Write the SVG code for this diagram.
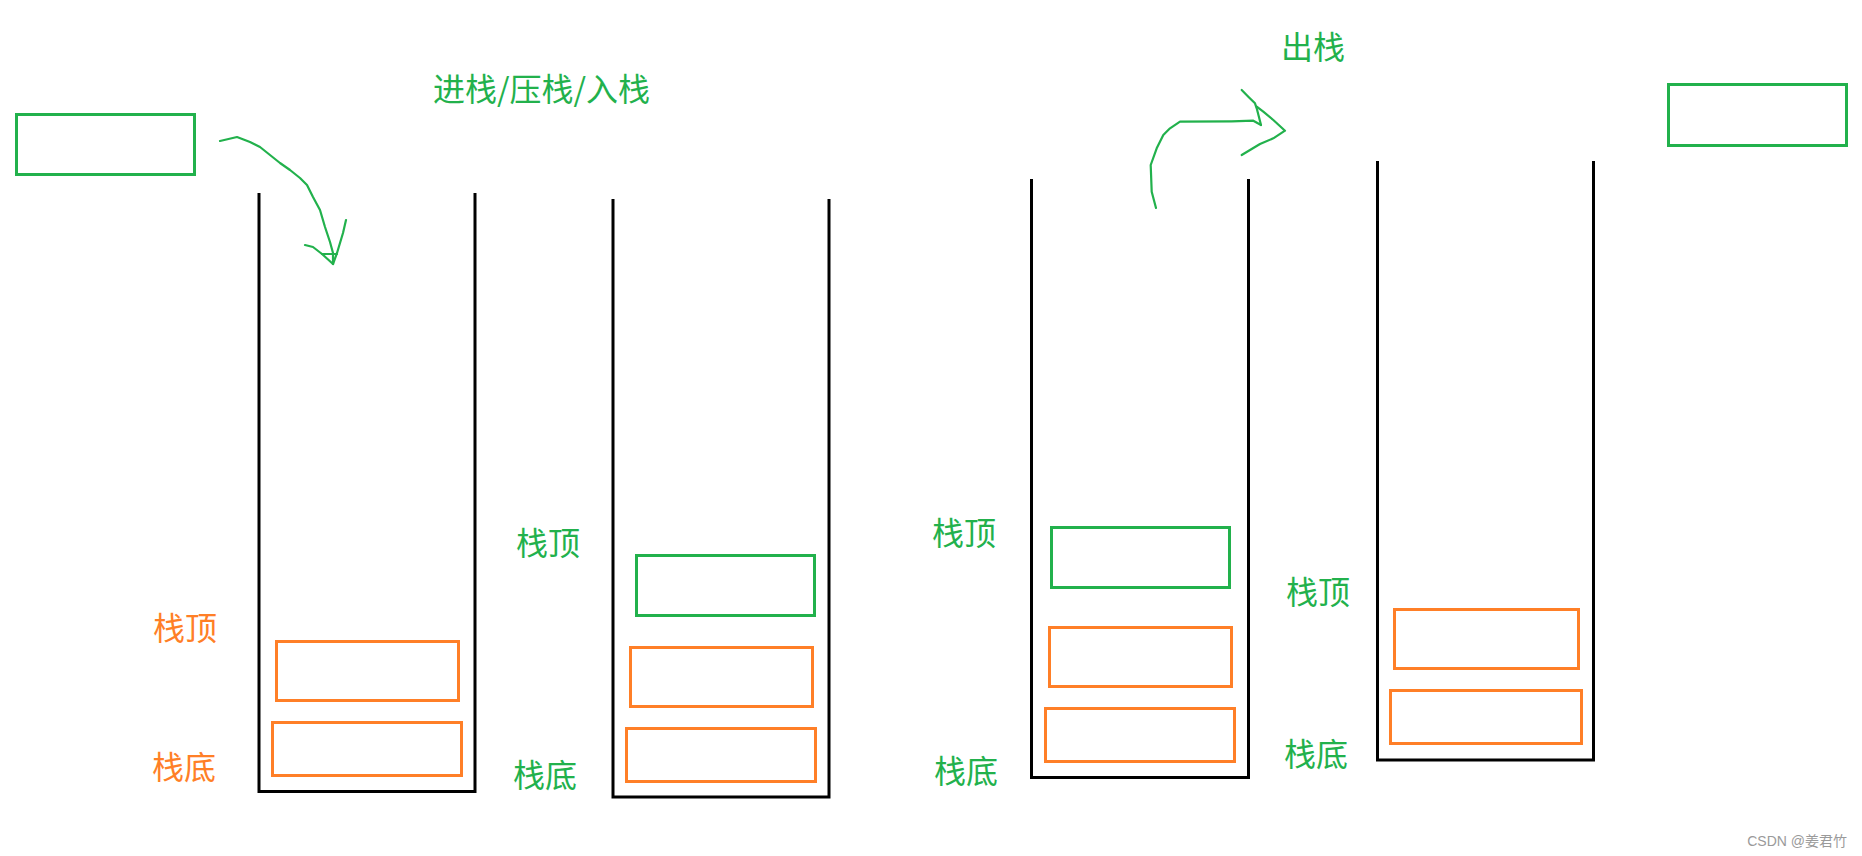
<svg xmlns="http://www.w3.org/2000/svg" width="1862" height="856" viewBox="0 0 1862 856">
<style>
  .stack{fill:none;stroke:#000;stroke-width:3;stroke-linejoin:miter}
  .g{fill:none;stroke:#22B14C;stroke-width:3}
  .o{fill:none;stroke:#FF7F27;stroke-width:3}
  .arrow{fill:none;stroke:#22B14C;stroke-width:2.2;stroke-linejoin:round;stroke-linecap:round}
  .lbl{font-family:"Microsoft YaHei","Noto Sans CJK SC",sans-serif;font-size:32px}
  .lg{fill:#22B14C}
  .lo{fill:#FF7F27}
  .wm{font-family:"Liberation Sans","Noto Sans CJK SC",sans-serif;font-size:14px;fill:#9a9a9a}
</style>
<rect width="1862" height="856" fill="#fff"/>

<g id="push-item"><rect class="g" x="16.5" y="114.5" width="178" height="60"/></g>
<g id="pop-item"><rect class="g" x="1668.5" y="84.5" width="178" height="61"/></g>

<g id="title-push"><text class="lbl lg" x="433" y="101">进栈/压栈/入栈</text></g>
<g id="title-pop"><text class="lbl lg" x="1281" y="59">出栈</text></g>

<g id="stack1">
  <path class="stack" d="M259 193 V791.5 H475 V193"/>
  <rect class="o" x="276.5" y="641.5" width="182" height="59"/>
  <rect class="o" x="272.5" y="722.5" width="189" height="53"/>
  <text class="lbl lo" x="153" y="640">栈顶</text>
  <text class="lbl lo" x="152" y="779">栈底</text>
</g>

<g id="stack2">
  <path class="stack" d="M613 199 V797 H829 V199"/>
  <rect class="g" x="636.5" y="555.5" width="178" height="60"/>
  <rect class="o" x="630.5" y="647.5" width="182" height="59"/>
  <rect class="o" x="626.5" y="728.5" width="189" height="53"/>
  <text class="lbl lg" x="516" y="555">栈顶</text>
  <text class="lbl lg" x="513" y="787">栈底</text>
</g>

<g id="stack3">
  <path class="stack" d="M1031.5 179 V777.5 H1248.5 V179"/>
  <rect class="g" x="1051.5" y="527.5" width="178" height="60"/>
  <rect class="o" x="1049.5" y="627.5" width="182" height="59"/>
  <rect class="o" x="1045.5" y="708.5" width="189" height="53"/>
  <text class="lbl lg" x="932" y="545">栈顶</text>
  <text class="lbl lg" x="934" y="783">栈底</text>
</g>

<g id="stack4">
  <path class="stack" d="M1377.5 161 V760 H1593.5 V161"/>
  <rect class="o" x="1394.5" y="609.5" width="184" height="59"/>
  <rect class="o" x="1390.5" y="690.5" width="191" height="53"/>
  <text class="lbl lg" x="1286" y="604">栈顶</text>
  <text class="lbl lg" x="1284" y="766">栈底</text>
</g>

<g id="connectors">
  <g id="arrow-push">
    <polyline class="arrow" points="220,141 237,137 250,142 260,147 270,155 280,163 290,170 300,178 307,185 313,197 320,210 325,227 330,242 333,253 333,264"/>
    <polyline class="arrow" points="346,220 343,233 337,253 333,264"/>
    <polyline class="arrow" points="305,245 313,247 322,254 333,264"/>
    <line class="arrow" x1="322" y1="254" x2="337" y2="254"/>
  </g>
  <g id="arrow-pop">
    <polyline class="arrow" points="1156,208 1151.7,191.7 1150.7,165 1156.7,148.3 1163.3,135 1170,128.3 1180,121.7 1231.7,121.3 1253.3,120.7 1261,125"/>
    <polyline class="arrow" points="1241.7,90 1248.3,96.7 1255,103.3 1256.7,108.3 1261,125"/>
    <polyline class="arrow" points="1256.7,106.7 1263.3,111.7 1273.3,120 1285,130.7 1273.3,138.3 1260,144 1241.7,155"/>
  </g>
</g>

<g id="watermark"><text class="wm" x="1847" y="846" text-anchor="end">CSDN @姜君竹</text></g>
</svg>
